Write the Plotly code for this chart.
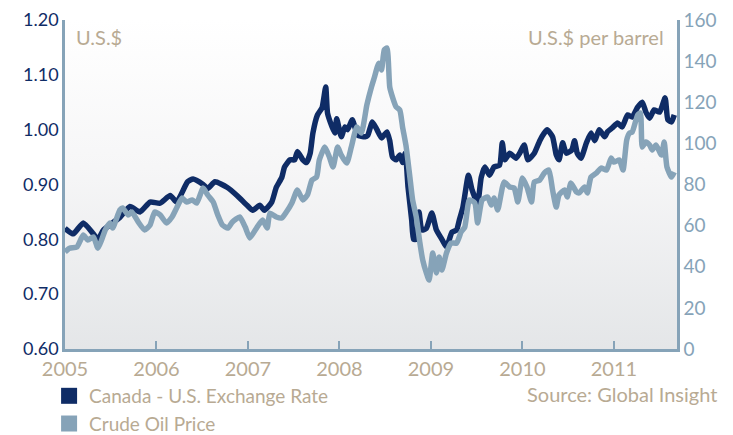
import plotly.graph_objects as go

# Canada - U.S. exchange rate (U.S.$ per C$), decimal years
fx_years = [2005.00, 2005.09, 2005.20, 2005.31, 2005.36, 2005.42, 2005.52, 2005.60, 2005.71, 2005.82,
            2005.93, 2006.04, 2006.15, 2006.22, 2006.34, 2006.40, 2006.51, 2006.56, 2006.64, 2006.77,
            2006.88, 2006.99, 2007.05, 2007.13, 2007.18, 2007.26, 2007.31, 2007.37, 2007.40, 2007.46,
            2007.51, 2007.54, 2007.60, 2007.64, 2007.68, 2007.71, 2007.76, 2007.81, 2007.85, 2007.87,
            2007.92, 2007.95, 2007.97, 2008.02, 2008.06, 2008.09, 2008.14, 2008.20, 2008.28, 2008.31,
            2008.36, 2008.41, 2008.46, 2008.52, 2008.55, 2008.58, 2008.62, 2008.66, 2008.69, 2008.72,
            2008.75, 2008.79, 2008.81, 2008.84, 2008.87, 2008.90, 2008.95, 2009.01, 2009.06, 2009.12,
            2009.17, 2009.23, 2009.28, 2009.31, 2009.35, 2009.41, 2009.45, 2009.51, 2009.55, 2009.59,
            2009.64, 2009.69, 2009.75, 2009.78, 2009.81, 2009.86, 2009.93, 2009.97, 2010.02, 2010.06,
            2010.13, 2010.19, 2010.24, 2010.27, 2010.33, 2010.37, 2010.40, 2010.44, 2010.48, 2010.54,
            2010.57, 2010.60, 2010.64, 2010.70, 2010.75, 2010.79, 2010.84, 2010.90, 2010.93, 2010.98,
            2011.04, 2011.09, 2011.15, 2011.20, 2011.26, 2011.31, 2011.35, 2011.39, 2011.44, 2011.50,
            2011.56, 2011.59, 2011.63, 2011.66]
fx_rate = [0.820, 0.810, 0.830, 0.810, 0.800, 0.817, 0.830, 0.840, 0.860, 0.850,
           0.868, 0.866, 0.880, 0.868, 0.905, 0.910, 0.900, 0.893, 0.905, 0.895,
           0.880, 0.862, 0.853, 0.862, 0.853, 0.868, 0.895, 0.913, 0.932, 0.945,
           0.945, 0.960, 0.945, 0.940, 0.957, 0.994, 1.027, 1.040, 1.078, 1.030,
           1.005, 0.994, 1.020, 0.987, 1.005, 1.000, 1.018, 0.990, 0.987, 0.990,
           1.014, 1.000, 0.985, 0.996, 0.980, 0.950, 0.945, 0.954, 0.940, 0.957,
           0.895, 0.835, 0.800, 0.800, 0.850, 0.817, 0.820, 0.848, 0.817, 0.800,
           0.786, 0.813, 0.817, 0.835, 0.859, 0.917, 0.890, 0.866, 0.913, 0.932,
           0.917, 0.932, 0.935, 0.976, 0.945, 0.957, 0.948, 0.957, 0.972, 0.945,
           0.957, 0.980, 0.994, 1.000, 0.987, 0.954, 0.945, 0.976, 0.957, 0.963,
           0.980, 0.957, 0.948, 0.976, 0.994, 0.980, 1.000, 0.987, 0.996, 1.003,
           1.012, 1.005, 1.027, 1.023, 1.041, 1.050, 1.032, 1.021, 1.036, 1.032,
           1.058, 1.018, 1.014, 1.027]

# Crude oil price (U.S.$ per barrel)
oil_years = [2005.00, 2005.05, 2005.13, 2005.20, 2005.25, 2005.31, 2005.36, 2005.40, 2005.44, 2005.49,
             2005.52, 2005.60, 2005.63, 2005.69, 2005.73, 2005.80, 2005.87, 2005.93, 2005.98, 2006.04,
             2006.11, 2006.17, 2006.22, 2006.28, 2006.33, 2006.39, 2006.44, 2006.51, 2006.56, 2006.62,
             2006.67, 2006.72, 2006.78, 2006.83, 2006.91, 2006.97, 2007.02, 2007.10, 2007.16, 2007.21,
             2007.24, 2007.31, 2007.37, 2007.42, 2007.48, 2007.54, 2007.60, 2007.65, 2007.70, 2007.75,
             2007.78, 2007.84, 2007.89, 2007.93, 2007.98, 2008.02, 2008.08, 2008.13, 2008.19, 2008.24,
             2008.30, 2008.35, 2008.38, 2008.43, 2008.46, 2008.49, 2008.52, 2008.55, 2008.58, 2008.62,
             2008.66, 2008.69, 2008.73, 2008.77, 2008.80, 2008.84, 2008.88, 2008.91, 2008.95, 2008.98,
             2009.02, 2009.06, 2009.09, 2009.12, 2009.17, 2009.22, 2009.28, 2009.33, 2009.37, 2009.42,
             2009.48, 2009.51, 2009.56, 2009.62, 2009.66, 2009.69, 2009.73, 2009.80, 2009.86, 2009.91,
             2009.95, 2010.00, 2010.05, 2010.10, 2010.13, 2010.19, 2010.24, 2010.29, 2010.33, 2010.37,
             2010.40, 2010.46, 2010.49, 2010.53, 2010.59, 2010.62, 2010.68, 2010.71, 2010.75, 2010.81,
             2010.86, 2010.92, 2010.97, 2011.00, 2011.06, 2011.10, 2011.14, 2011.17, 2011.20, 2011.26,
             2011.29, 2011.31, 2011.35, 2011.39, 2011.42, 2011.46, 2011.52, 2011.55, 2011.58, 2011.63,
             2011.66]
oil_price = [47.2, 49.0, 49.6, 55.4, 53.0, 54.5, 49.0, 53.0, 57.9, 61.3,
             58.8, 67.6, 68.6, 65.2, 66.6, 61.8, 57.9, 60.3, 66.6, 65.2,
             61.3, 64.2, 68.6, 73.4, 71.5, 72.5, 71.0, 78.3, 74.9, 71.5,
             65.2, 60.3, 58.8, 61.8, 64.2, 59.3, 54.0, 59.3, 62.7, 58.8,
             66.0, 64.2, 63.7, 66.6, 71.0, 77.3, 72.5, 74.9, 82.2, 83.6,
             91.9, 98.2, 93.4, 88.5, 98.2, 94.3, 90.4, 98.2, 108.0, 105.0,
             118.7, 127.4, 131.8, 139.0, 135.7, 145.4, 146.4, 127.4, 122.5, 117.7,
             116.2, 108.0, 98.2, 83.6, 72.5, 64.2, 51.5, 43.3, 37.0, 33.5,
             46.7, 37.0, 44.7, 38.4, 46.7, 51.5, 51.5, 56.9, 59.3, 72.5,
             71.0, 61.3, 72.5, 73.9, 70.0, 73.4, 67.6, 81.2, 78.8, 78.3,
             71.5, 83.2, 78.8, 71.5, 81.2, 82.2, 85.6, 87.0, 77.3, 69.0,
             74.9, 77.3, 73.9, 80.7, 76.4, 75.9, 78.8, 75.9, 83.6, 85.6,
             88.0, 87.0, 92.9, 90.9, 91.9, 87.0, 101.6, 105.0, 105.5, 113.8,
             114.8, 98.2, 100.7, 99.2, 96.8, 99.2, 94.3, 100.7, 88.5, 83.6,
             86.0]

year_ticks = [2005, 2006, 2007, 2008, 2009, 2010, 2011]

NAVY = "#0f2c66"
STEEL = "#86a3b8"
TAN = "#b8aa93"
FONT = "Lato"
FS = 18   # y tick labels
FT = 20   # other texts

fig = go.Figure()

# gradient plot background on the hidden base axes (white at top, light grey at bottom)
fig.add_trace(go.Scatter(
    x=[0, 1, 1, 0, 0], y=[0, 0, 1, 1, 0], xaxis="x", yaxis="y",
    mode="lines", line=dict(width=0), fill="toself",
    fillgradient=dict(type="vertical",
                      colorscale=[[0, "#e4e6e8"], [0.55, "#f6f6f7"], [1, "#ffffff"]]),
    hoverinfo="skip", showlegend=False))

fig.add_trace(go.Scatter(
    x=fx_years, y=fx_rate, mode="lines", name="Canada - U.S. Exchange Rate",
    xaxis="x2", yaxis="y2",
    line=dict(color=NAVY, width=5.5, shape="spline", smoothing=0.5),
    showlegend=False))
fig.add_trace(go.Scatter(
    x=oil_years, y=oil_price, mode="lines", name="Crude Oil Price",
    xaxis="x2", yaxis="y3",
    line=dict(color=STEEL, width=5.5, shape="spline", smoothing=0.5),
    showlegend=False))

# legend entries with square swatches
for name, col in [("Canada - U.S. Exchange Rate", NAVY), ("Crude Oil Price", STEEL)]:
    fig.add_trace(go.Scatter(x=[None], y=[None], mode="markers", name=name,
                             xaxis="x2", yaxis="y2",
                             marker=dict(symbol="square", size=17, color=col)))

# the page body adds an 8px offset, so margins are shifted to compensate
fig.update_layout(
    width=733, height=435,
    margin=dict(l=57, r=64, t=12, b=94, autoexpand=False),
    paper_bgcolor="white",
    plot_bgcolor="rgba(0,0,0,0)",
    font=dict(family=FONT, size=FT, color=TAN),
    xaxis=dict(range=[0, 1], visible=False),
    yaxis=dict(range=[0, 1], visible=False),
    xaxis2=dict(range=[2005, 2011.69], tickvals=year_ticks, ticks="inside", ticklen=8,
                tickwidth=2, tickcolor=STEEL, showline=True, linecolor=STEEL, linewidth=2.5,
                showgrid=False, zeroline=False, overlaying="x", side="bottom",
                anchor="y2", tickfont=dict(color=TAN, size=FT)),
    yaxis2=dict(range=[0.6, 1.2], dtick=0.1, tickformat=".2f", showline=True,
                linecolor=STEEL, linewidth=2.5, showgrid=False, zeroline=False,
                overlaying="y", side="left", anchor="x2", ticklabeloverflow="allow",
                ticks="", tickfont=dict(color=NAVY, size=FS)),
    yaxis3=dict(range=[0, 160], dtick=20, overlaying="y", side="right", showline=True,
                anchor="x2", ticklabeloverflow="allow",
                linecolor=STEEL, linewidth=2.5, showgrid=False, zeroline=False,
                ticks="", tickfont=dict(color=STEEL, size=19)),
    legend=dict(x=-0.026, y=-0.085, xanchor="left", yanchor="top", orientation="v",
                bgcolor="rgba(0,0,0,0)", font=dict(color=TAN, size=19),
                itemwidth=30, tracegroupgap=0),
    annotations=[
        dict(text="U.S.$", x=0.015, y=0.99, xref="paper", yref="paper",
             xanchor="left", yanchor="top", showarrow=False, font=dict(color=TAN, size=FT)),
        dict(text="U.S.$ per barrel", x=0.982, y=0.99, xref="paper", yref="paper",
             xanchor="right", yanchor="top", showarrow=False, font=dict(color=TAN, size=FT)),
        dict(text="Source: Global Insight", x=1.069, y=-0.093, xref="paper", yref="paper",
             xanchor="right", yanchor="top", showarrow=False, font=dict(color=TAN, size=FT)),
    ],
)

fig.write_html("out.html")
